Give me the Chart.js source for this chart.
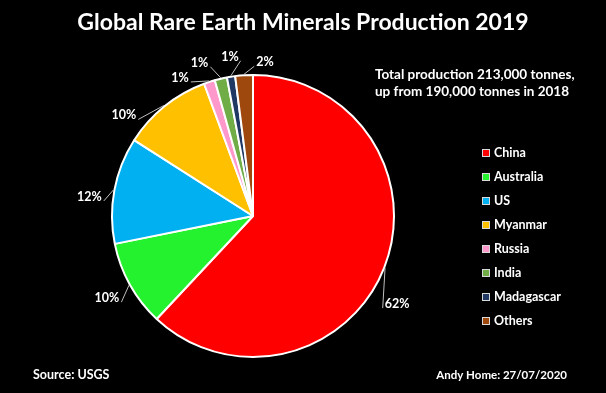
<!DOCTYPE html>
<html>
<head>
<meta charset="utf-8">
<script src="https://cdn.jsdelivr.net/npm/chart.js@4"></script>
<style>
    html, body { margin: 0; padding: 0; background: #000; }
    #wrap { width: 606px; height: 393px; }
</style>
</head>
<body>
<div id="wrap"><canvas id="chart"></canvas></div>
<script>
// production 2019, thousand tonnes (USGS)
const countries = ['China', 'Australia', 'US', 'Myanmar', 'Russia', 'India', 'Madagascar', 'Others'];
const production = [132, 21, 26, 22, 2.7, 3, 2, 4.3];
const colors = ['#FF0000', '#25F22E', '#00B0F0', '#FFC000', '#FF99CC', '#70AD47', '#203864', '#9E480E'];

// label offsets from the middle of each slice's rim (px)
const labelOffsets = [[12, 36], [-22, 13], [-24, 7], [-40, 10], [-29, -3], [-21, -15], [-1, -19], [21, -12]];

const FONT = 'Lato, "Open Sans", sans-serif';

const pieLabels = {
    id: 'pieLabels',
    afterDatasetsDraw(chart) {
        const ctx = chart.ctx;
        const meta = chart.getDatasetMeta(0);
        const data = chart.data.datasets[0].data;
        const total = data.reduce((a, b) => a + b, 0);
        ctx.save();
        ctx.font = 'bold 12.5px ' + FONT;
        ctx.textAlign = 'center';
        ctx.textBaseline = 'middle';
        meta.data.forEach((arc, i) => {
            const mid = (arc.startAngle + arc.endAngle) / 2;
            const px = arc.x + Math.cos(mid) * (arc.outerRadius + 1);
            const py = arc.y + Math.sin(mid) * (arc.outerRadius + 1);
            const lx = px + labelOffsets[i][0];
            const ly = py + labelOffsets[i][1];
            const text = Math.round(data[i] / total * 100) + '%';
            const w = ctx.measureText(text).width;
            const ex = lx < px ? lx + w / 2 + 2 : lx - w / 2 - 2;
            const ey = ly + 4;
            ctx.strokeStyle = '#BFBFBF';
            ctx.lineWidth = 1;
            ctx.beginPath();
            ctx.moveTo(px, py);
            ctx.lineTo(ex, ey);
            ctx.stroke();
            ctx.fillStyle = '#FFFFFF';
            ctx.fillText(text, lx, ly);
        });
        ctx.restore();
    }
};

const sideText = {
    id: 'sideText',
    afterDraw(chart) {
        const ctx = chart.ctx;
        const ds = chart.data.datasets[0];
        ctx.save();
        ctx.fillStyle = '#FFFFFF';
        ctx.textBaseline = 'middle';

        // title
        ctx.font = 'bold 23px ' + FONT;
        ctx.textAlign = 'center';
        ctx.fillText('Global Rare Earth Minerals Production 2019', 303, 23);

        // legend
        ctx.font = 'bold 12.5px ' + FONT;
        chart.data.labels.forEach((lab, i) => {
            const y = 153 + i * 24;
            ctx.fillStyle = ds.backgroundColor[i];
            ctx.fillRect(482, y - 4, 8, 8);
            ctx.strokeStyle = '#D9D9D9';
            ctx.lineWidth = 1;
            ctx.strokeRect(482.5, y - 3.5, 7, 7);
            ctx.fillStyle = '#FFFFFF';
            ctx.textAlign = 'left';
            ctx.fillText(lab, 494, y);
        });

        // note
        ctx.font = 'bold 13.5px ' + FONT;
        ctx.textAlign = 'left';
        ctx.fillText('Total production 213,000 tonnes,', 375, 75);
        ctx.fillText('up from 190,000 tonnes in 2018', 375, 92);

        // footer
        ctx.font = 'bold 12.5px ' + FONT;
        ctx.fillText('Source: USGS', 33, 375);
        ctx.font = 'bold 11.5px ' + FONT;
        ctx.textAlign = 'right';
        ctx.fillText('Andy Home: 27/07/2020', 567, 375);
        ctx.restore();
    }
};

const ctx = document.getElementById('chart').getContext('2d');
new Chart(ctx, {
    type: 'pie',
    data: {
        labels: countries,
        datasets: [
            {
                data: production,
                backgroundColor: colors,
                borderColor: '#FFFFFF',
                borderWidth: 2,
            },
        ],
    },
    options: {
        responsive: true,
        maintainAspectRatio: false,
        animation: false,
        layout: {
            padding: { left: 111, right: 211, top: 73, bottom: 34 },
        },
        plugins: {
            legend: { display: false },
            tooltip: { enabled: false },
        },
    },
    plugins: [pieLabels, sideText],
});
</script>
</body>
</html>
